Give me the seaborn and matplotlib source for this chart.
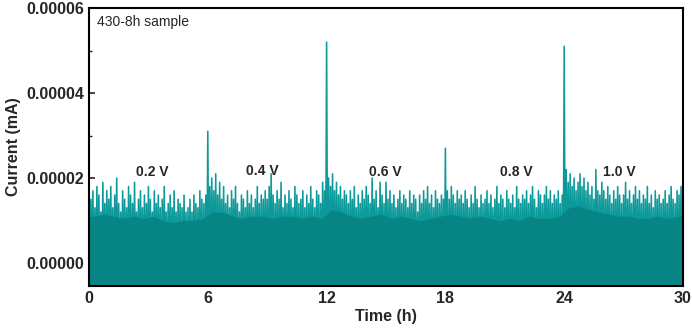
import numpy as np
import pandas as pd
import matplotlib
matplotlib.use("Agg")
import matplotlib.pyplot as plt
import seaborn as sns

# peak current of each 0.1 h slice (units of 1e-6 mA)
peaks_0_5 = [24, 15, 17, 13, 18, 16, 12, 19, 14, 17, 15, 18, 13, 16, 20, 14, 12, 17, 15, 13,
             18, 16, 14, 19, 12, 15, 17, 13, 16, 14, 18, 15, 12, 17, 14, 16, 13, 15, 18, 12,
             14, 16, 13, 17, 12, 15, 14, 13, 16, 12]
peaks_5_10 = [13, 15, 12, 16, 14, 13, 17, 15, 14, 16, 31, 18, 20, 17, 21, 16, 19, 15, 18, 14,
              16, 13, 17, 15, 18, 14, 12, 16, 15, 13, 17, 14, 16, 13, 15, 18, 14, 16, 15, 17,
              15, 18, 21, 16, 14, 17, 15, 19, 13, 16]
peaks_10_15 = [14, 17, 15, 13, 18, 16, 14, 15, 17, 13, 16, 14, 18, 15, 13, 17, 16, 14, 19, 17,
               52, 20, 18, 21, 17, 19, 16, 18, 15, 17, 16, 14, 17, 15, 18, 13, 16, 14, 17, 15,
               18, 16, 14, 20, 15, 17, 13, 19, 16, 14]
peaks_15_20 = [19, 15, 17, 14, 16, 13, 15, 17, 14, 16, 15, 13, 17, 14, 16, 15, 12, 16, 14, 17,
               15, 18, 14, 16, 13, 17, 15, 14, 16, 15, 27, 17, 15, 18, 16, 14, 17, 15, 16, 14,
               17, 15, 13, 16, 14, 18, 15, 13, 16, 14]
peaks_20_25 = [15, 17, 14, 16, 13, 15, 18, 14, 16, 15, 13, 17, 15, 14, 16, 13, 18, 15, 14, 16,
               15, 17, 14, 16, 18, 15, 13, 17, 16, 14, 16, 18, 15, 17, 14, 16, 15, 17, 14, 16,
               51, 22, 19, 21, 18, 20, 17, 19, 21, 18]
peaks_25_30 = [20, 17, 19, 16, 18, 15, 22, 17, 16, 19, 17, 15, 18, 16, 14, 17, 15, 18, 16, 14,
               16, 19, 15, 17, 14, 16, 18, 15, 17, 14, 16, 15, 18, 14, 16, 13, 17, 15, 16, 14,
               15, 17, 14, 16, 18, 15, 14, 17, 16, 18]
trough = -7  # lower swing of the trace, below the visible axis

# top of the dense (solid) part of the trace, every 0.5 h (units of 1e-6 mA)
body = [11, 11.5, 11, 10.5, 11, 10.5, 11, 10, 9.5, 10, 10, 10.5, 12, 12, 11, 10.5, 11, 11,
        10.5, 11, 11, 10.5, 11, 10.5, 12.5, 12, 11, 10.5, 11, 11.5, 10.5, 11, 10.5, 10, 10.5, 11,
        11.5, 11, 10.5, 11, 10.5, 10, 10.5, 10, 11, 10.5, 10.5, 11, 13, 13.5, 12.5, 12, 11.5, 11,
        11, 10.5, 10.5, 11, 10.5, 11]

voltage_labels = ["0.2 V", "0.4 V", "0.6 V", "0.8 V", "1.0 V"]
voltage_x = [3.2, 8.75, 14.95, 21.6, 26.8]
voltage_y = [2.14e-5, 2.16e-5, 2.14e-5, 2.14e-5, 2.14e-5]

peaks = (peaks_0_5 + peaks_5_10 + peaks_10_15 + peaks_15_20
         + peaks_20_25 + peaks_25_30)
step = 0.1
t, cur = [], []
for i, p in enumerate(peaks):
    t += [i * step, i * step + step / 2]
    cur += [p * 1e-6, trough * 1e-6]
df = pd.DataFrame({"Time": t, "Current": cur})
body_t = np.arange(len(body)) * 0.5 + 0.25
body_y = np.array(body) * 1e-6

sns.set_style("ticks")
plt.rcParams["font.family"] = ["Liberation Sans", "DejaVu Sans"]

fig = plt.figure(figsize=(6.92, 3.36), dpi=100)
ax = fig.add_axes([0.1286, 0.149, 0.8584, 0.827])
sns.lineplot(data=df, x="Time", y="Current", ax=ax, color="#0b9999",
             linewidth=1.15, estimator=None, sort=False)
ax.fill_between(np.r_[0, body_t, 30], np.r_[body_y[0], body_y, body_y[-1]],
                trough * 1e-6, color="#078585", lw=0, zorder=3)

ax.set_xlim(0, 30)
ax.set_ylim(-5.4e-6, 6e-5)
ax.set_xticks([0, 6, 12, 18, 24, 30])
ax.set_yticks([0, 2e-5, 4e-5, 6e-5])
ax.set_yticklabels(["0.00000", "0.00002", "0.00004", "0.00006"])
ax.set_yticks([1e-5, 3e-5, 5e-5], minor=True)
ax.set_xticks([3, 9, 15, 21, 27], minor=True)
ax.tick_params(which="major", direction="in", length=4, width=1.2,
               labelsize=11.5)
ax.tick_params(which="minor", direction="in", length=2, width=1)
for lab in ax.get_xticklabels() + ax.get_yticklabels():
    lab.set_fontweight("bold")
for sp in ax.spines.values():
    sp.set_visible(True)
    sp.set_linewidth(1.5)
    sp.set_color("black")
    sp.set_zorder(5)

ax.set_xlabel("Time (h)", fontsize=11.5, fontweight="bold", labelpad=2)
ax.set_ylabel("Current (mA)", fontsize=11.5, fontweight="bold", labelpad=4)

for lab, x, y in zip(voltage_labels, voltage_x, voltage_y):
    ax.text(x, y, lab, ha="center", va="center", fontsize=10, fontweight="bold")
ax.text(0.014, 0.95, "430-8h sample", transform=ax.transAxes, ha="left",
        va="center", fontsize=10)

fig.savefig("out.png", dpi=100)
